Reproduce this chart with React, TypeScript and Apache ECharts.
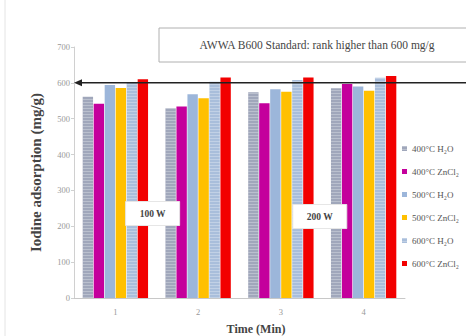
import React, { useEffect, useRef } from "react";
import * as echarts from "echarts";

const categories = ["1", "2", "3", "4"];
const seriesNames = ["400°C H₂O", "400°C ZnCl₂", "500°C H₂O", "500°C ZnCl₂", "600°C H₂O", "600°C ZnCl₂"];
const s400H2O = [561, 529, 574, 585];
const s400ZnCl2 = [542, 534, 543, 597];
const s500H2O = [594, 568, 582, 590];
const s500ZnCl2 = [586, 557, 575, 578];
const s600H2O = [601, 603, 608, 614];
const s600ZnCl2 = [610, 615, 615, 619];
const standardValue = 600;
const yTicks = [0, 100, 200, 300, 400, 500, 600, 700];
const xAxisTitle = "Time (Min)";

const colors = ["#a0a7bb", "#c4009c", "#9cb6da", "#ffc000", "#a9bedb", "#f20000"];
const patterned = [true, false, false, false, true, false];

export default function App() {
  const ref = useRef<HTMLDivElement>(null);
  useEffect(() => {
    if (!ref.current) return;
    const chart = echarts.init(ref.current, undefined, { renderer: "svg" });
    const data = [s400H2O, s400ZnCl2, s500H2O, s500ZnCl2, s600H2O, s600ZnCl2];
    const serif = "'Liberation Serif', 'Times New Roman', serif";
    chart.setOption({
      animation: false,
      backgroundColor: "#ffffff",
      grid: { left: 74, right: 61, top: 47, bottom: 38, containLabel: false },
      legend: {
        orient: "vertical",
        left: 402,
        top: 144,
        padding: 0,
        itemWidth: 5,
        itemHeight: 5,
        itemGap: 14,
        icon: "rect",
        textStyle: { fontFamily: serif, fontSize: 9, color: "#555" },
        data: seriesNames,
      },
      xAxis: {
        type: "category",
        data: categories,
        axisLine: { lineStyle: { color: "#c8c8c8" } },
        axisTick: { show: false },
        axisLabel: { fontFamily: serif, fontSize: 8.5, color: "#999", margin: 9 },
      },
      yAxis: {
        type: "value",
        min: 0,
        max: 700,
        interval: 100,
        name: "Iodine adsorption (mg/g)",
        nameLocation: "middle",
        nameGap: 31,
        nameTextStyle: { fontFamily: serif, fontSize: 15, fontWeight: "bold", color: "#444" },
        axisLine: { show: true, lineStyle: { color: "#d0d0d0" } },
        axisTick: { show: true, length: 3, lineStyle: { color: "#d0d0d0" } },
        splitLine: { show: false },
        axisLabel: { fontFamily: serif, fontSize: 8.5, color: "#999", margin: 4, customValues: yTicks } as any,
      },
      series: data.map((d, i) => ({
        name: seriesNames[i],
        type: "bar",
        data: d,
        barGap: "6%",
        barCategoryGap: "21%",
        itemStyle: {
          color: colors[i],
          decal: patterned[i]
            ? { symbol: "rect", dashArrayX: [1, 0], dashArrayY: [1, 2], rotation: 0, color: "rgba(255,255,255,0.28)" }
            : undefined,
        },
      })),
    });

    const yStd = chart.convertToPixel({ yAxisIndex: 0 }, standardValue) as number;
    const x0 = chart.convertToPixel({ xAxisIndex: 0 }, 0) as number;
    const x1 = chart.convertToPixel({ xAxisIndex: 0 }, 1) as number;
    const x2 = chart.convertToPixel({ xAxisIndex: 0 }, 2) as number;
    const band = x1 - x0;
    const leftEdge = x0 - band / 2;
    const yLab = chart.convertToPixel({ yAxisIndex: 0 }, 230) as number;

    const boxLabel = (cx: number, cy: number, text: string) => ({
      type: "group",
      children: [
        { type: "rect", shape: { x: cx - 27, y: cy - 12, width: 54, height: 24 }, style: { fill: "#fff", stroke: "#e6e6e6", lineWidth: 1 }, z: 10 },
        { type: "text", x: cx, y: cy, style: { text, fill: "#444", font: `bold 9.5px ${serif}`, align: "center", verticalAlign: "middle" }, z: 11 },
      ],
    });

    chart.setOption({
      graphic: [
        { type: "line", shape: { x1: 5, y1: 0, x2: 5, y2: 336 }, style: { stroke: "#e4e4e4", lineWidth: 1 } },
        { type: "line", shape: { x1: leftEdge + 6, y1: yStd, x2: 466, y2: yStd }, style: { stroke: "#222", lineWidth: 1.5 }, z: 20 },
        { type: "polygon", shape: { points: [[leftEdge, yStd], [leftEdge + 8, yStd - 3.5], [leftEdge + 8, yStd + 3.5]] }, style: { fill: "#222" }, z: 20 },
        {
          type: "rect",
          shape: { x: 159, y: 28, width: 320, height: 34 },
          style: { fill: "#fff", stroke: "#b0b0b0", lineWidth: 1 },
        },
        {
          type: "text",
          x: 317,
          y: 45,
          style: { text: "AWWA B600 Standard: rank higher than 600 mg/g", fill: "#444", font: `11.5px ${serif}`, align: "center", verticalAlign: "middle" },
        },
        {
          type: "text",
          x: 256,
          y: 329,
          style: { text: xAxisTitle, fill: "#444", font: `bold 12px ${serif}`, align: "center", verticalAlign: "middle" },
        },
        boxLabel(x0 + band * 0.45, yLab - 2, "100 W"),
        boxLabel(x2 + band * 0.47, yLab + 1, "200 W"),
      ],
    });
    return () => chart.dispose();
  }, []);
  return <div ref={ref} style={{ position: "fixed", left: 0, top: 0, width: 466, height: 336 }} />;
}
